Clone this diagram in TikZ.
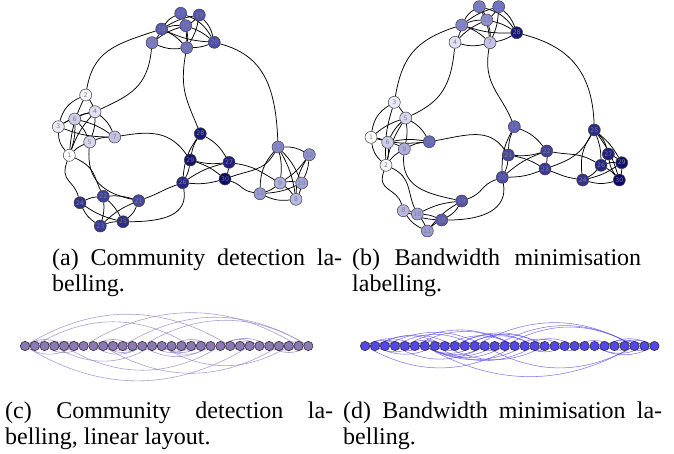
\documentclass[tikz,border=0pt]{standalone}
\usepackage{fontspec}
\setmainfont{Liberation Serif}
\newfontfamily\lblfont{DejaVu Sans}
\pgfdeclarelayer{paper}
\pgfdeclarelayer{edges}
\pgfsetlayers{paper,edges,main}

\definecolor{navyc}{rgb}{0.04,0.04,0.42}
\definecolor{midc}{rgb}{0.42,0.42,0.78}
\definecolor{linfill}{rgb}{0.55,0.47,0.71}
\definecolor{linedge}{rgb}{0.60,0.53,0.78}
\definecolor{bwfill}{rgb}{0.33,0.27,0.93}
\definecolor{bwedge}{rgb}{0.36,0.30,0.92}

% fill colour of a graph vertex: white -> midc -> navyc along the labels 1..30
\newcommand\setnodecolor[1]{%
  \pgfmathtruncatemacro\cp{round((#1-1)*200/29)}%
  \ifnum\cp>100
    \pgfmathtruncatemacro\cq{\cp-100}\colorlet{nodefill}{navyc!\cq!midc}%
  \else
    \colorlet{nodefill}{midc!\cp!white}%
  \fi}

\tikzset{
  gnode/.style={circle, draw=black!75, line width=0.5pt, minimum size=12pt,
    inner sep=0pt, font=\lblfont\fontsize{6.2}{6.2}\selectfont, text=black!50},
  gedge/.style={line width=0.75pt, black},
  lnode/.style={circle, draw=black!80, line width=0.6pt, minimum size=9.3pt, inner sep=0pt},
  cedge/.style={line width=0.6pt, linedge, opacity=0.8},
  dedge/.style={line width=0.55pt, bwedge, opacity=0.75},
  captext/.style={anchor=base west, inner sep=0pt, font=\fontsize{24}{26}\selectfont},
}

\begin{document}
\begin{tikzpicture}[x=1pt,y=1pt]
\begin{pgfonlayer}{paper}
\fill[white] (0,0) rectangle (674,-453);
\end{pgfonlayer}
\useasboundingbox (0,0) rectangle (674,-453);

% vertices: community label / position (a) / bandwidth label / position (b)
\foreach \i/\ax/\ay/\bl/\bx/\by in {
  1/69.3/155.3/2/386/165.3,
  2/85.7/95/3/394.3/102.3,
  3/58.3/126.7/1/371/137.3,
  4/95/111.7/5/405.7/118,
  5/89.7/142/9/404.3/149,
  6/74.7/119/6/387.7/142.3,
  7/114.7/137/16/429.3/141.7,
  8/296/199.3/30/619.3/180,
  9/280/183/26/601/165.3,
  10/301.7/183/29/621.7/162.7,
  11/260/193.7/24/582.7/180,
  12/309.3/154.7/27/608.3/154,
  13/278/147/25/594.3/130,
  14/152/42.7/4/455/42.3,
  15/186.7/47.7/7/490/42.7,
  16/185.7/25.7/12/486.7/20,
  17/180.7/13.3/14/479.3/6.7,
  18/161.7/29/13/461.7/25,
  19/199.3/15/15/498.7/6.7,
  20/214.3/42.3/28/516.7/32.7,
  21/138.7/200.7/19/461.7/201,
  22/103.3/196.3/10/417.3/214,
  23/100.3/226/11/427.3/231,
  24/80/202.7/8/403.3/210.7,
  25/123/221.7/18/441.7/220,
  26/182.7/182.7/20/502.3/177.3,
  27/229/162.3/22/546.7/151,
  28/200.3/133.7/17/514.3/126.7,
  29/190.3/160/21/508.3/155,
  30/225/179/23/545/169}{
  \setnodecolor{\i}
  \node[gnode, fill=nodefill] (a\i) at (\ax,-\ay) {\i};
  \setnodecolor{\bl}
  \node[gnode, fill=nodefill] (b\i) at (\bx,-\by) {\bl};
  \node[lnode, fill=linfill] (c\i) at ({25+(\i-1)*9.77},-346) {};
  \node[lnode, fill=bwfill] (d\i) at ({365+(\bl-1)*9.98},-346) {};
}

\begin{pgfonlayer}{edges}
% long edges between the groups:
% out angle / in angle / out distance / in distance / side in the linear layouts
\foreach \u/\v/\o/\n/\od/\nd/\s in {
  2/18/80/198/38/44/1, 4/14/25/-95/32/38/-1, 15/28/-100/112/36/30/-1,
  20/13/-15/92/42/58/1, 7/29/10/125/32/28/1, 5/21/-95/168/32/30/-1,
  1/22/-25/115/22/18/1, 1/24/-110/105/22/18/-1, 21/26/20/200/18/18/1,
  25/26/0/-80/36/26/-1, 30/11/-20/170/14/14/-1, 27/9/-10/150/20/20/1,
  30/13/20/-120/22/22/-1}{
  \draw[gedge] (a\u) to[out=\o, in=\n, out distance=\od, in distance=\nd] (a\v);
  \draw[gedge] (b\u) to[out=\o, in=\n, out distance=\od, in distance=\nd] (b\v);
  \draw[cedge] (c\u.center) to[bend left=\s*32] (c\v.center);
  \draw[dedge] (d\u.center) to[bend left=\s*28] (d\v.center);
}
% edges inside the groups, with their bend
\foreach \u/\v/\bd in {
  17/18/-15, 17/16/10, 17/15/10, 17/20/20, 19/18/-10, 19/16/10, 19/20/15,
  19/15/10, 18/16/10, 18/14/10, 18/20/-10, 18/15/10, 14/15/-15, 14/16/10,
  16/20/10, 16/15/10, 15/20/-10,
  2/4/10, 2/3/-25, 2/1/-10, 3/6/10, 3/4/10, 4/6/-10, 4/5/10, 4/7/15,
  4/1/-10, 6/7/10, 6/5/10, 6/1/10, 3/7/-10, 3/1/-20, 5/7/10, 5/1/-10,
  13/12/15, 13/9/10, 13/11/-20, 13/10/10, 13/8/10, 12/10/10, 12/8/-15,
  12/9/10, 9/10/10, 9/11/10, 9/8/10, 10/11/10, 11/8/-15, 10/8/10,
  24/22/10, 24/23/-15, 24/25/-10, 22/21/10, 22/23/10, 22/25/10, 21/25/15,
  23/25/10, 21/23/-10,
  28/29/-10, 28/26/-15, 28/27/15, 29/27/-10, 29/30/10, 29/26/10,
  26/30/-10, 27/30/10, 26/27/10}{
  \draw[gedge] (a\u) to[bend left=\bd] (a\v);
  \draw[gedge] (b\u) to[bend left=\bd] (b\v);
  \pgfmathsetmacro\cb{\bd>0 ? 35 : -35}
  \pgfmathsetmacro\db{\bd>0 ? 30 : -30}
  \draw[cedge] (c\u.center) to[bend left=\cb] (c\v.center);
  \draw[dedge] (d\u.center) to[bend left=\db] (d\v.center);
}
\end{pgfonlayer}

% captions
\node[captext] (capa1) at (52,-265) {\makebox[290pt][s]{(a) Community detection la-}};
\node[captext] (capa2) at (52,-291) {belling.};
\node[captext] (capb1) at (352,-265) {\makebox[289pt][s]{(b) Bandwidth minimisation}};
\node[captext] (capb2) at (352,-291) {labelling.};
\node[captext] (capc1) at (5,-418) {\makebox[328pt][s]{(c) Community detection la-}};
\node[captext] (capc2) at (5,-444) {belling, linear layout.};
\node[captext] (capd1) at (343,-418) {\makebox[319pt][s]{(d) Bandwidth minimisation la-}};
\node[captext] (capd2) at (343,-444) {belling.};
\end{tikzpicture}
\end{document}
